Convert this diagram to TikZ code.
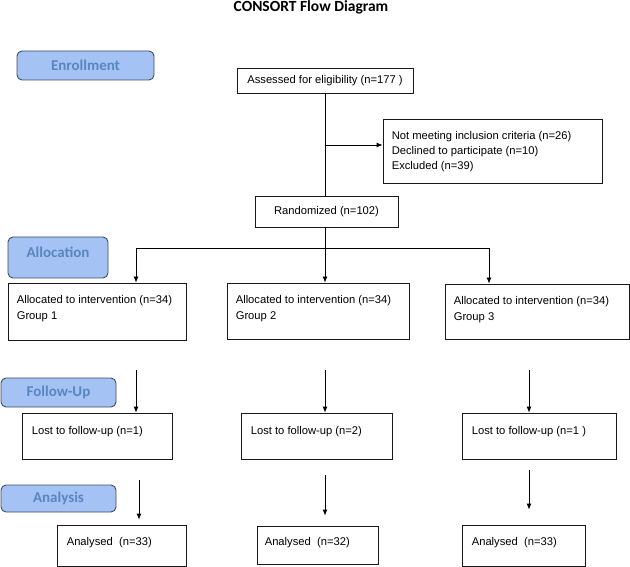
\documentclass[tikz,border=0pt]{standalone}
\usepackage{fontspec}
\setmainfont{Liberation Sans}
\newfontfamily\calib{Carlito}
\usetikzlibrary{arrows.meta,calc}
\definecolor{phasefill}{HTML}{A4C2F4}
\definecolor{phaseline}{HTML}{3D4D66}
\definecolor{phasetext}{HTML}{5A86C0}
\begin{document}
\begin{tikzpicture}[x=1pt,y=-1pt,
  box/.style={draw=black!90, line width=0.8pt, inner sep=0pt},
  boxfont/.style={font=\fontsize{11.2}{16}\selectfont},
  txt/.style={boxfont, inner sep=0pt, anchor=north west, align=left},
  phase/.style={draw=phaseline, line width=0.9pt, fill=phasefill, rounded corners=5pt, inner sep=0pt},
  phasetxt/.style={text=phasetext, font=\calib\bfseries\fontsize{15}{18}\selectfont, inner sep=0pt},
  arr/.style={line width=0.8pt, -{Latex[length=6pt,width=5pt]}},
  ln/.style={line width=0.8pt}]
\useasboundingbox (0,0) rectangle (630,567);

% title
\node[font=\calib\bfseries\fontsize{15.5}{18}\selectfont] (title) at (311,7.5) {CONSORT Flow Diagram};

% phase labels
\node[phase, minimum width=137, minimum height=29, phasetxt] (enr) at (85.5,65.5) {Enrollment};
\node[phase, minimum width=100, minimum height=41] (alloc) at (58,257.5) {};
\node[phasetxt] (alloct) at (58,252.5) {Allocation};
\node[phase, minimum width=115, minimum height=29, phasetxt] (fu) at (58.5,392.5) {Follow-Up};
\node[phase, minimum width=115, minimum height=27, phasetxt] (ana) at (58.5,498.5) {Analysis};

% enrollment
\node[box, boxfont, minimum width=176, minimum height=25] (assess) at (325,80.5) {Assessed for eligibility (n=177 )};
\node[box, minimum width=219, minimum height=64] (excl) at (492.5,151) {};
\node[txt, font=\fontsize{11.2}{15}\selectfont] (exclt) at ($(excl.north west)+(9,13)$) {Not meeting inclusion criteria (n=26)\\Declined to participate (n=10)\\Excluded (n=39)};
\node[box, boxfont, minimum width=143, minimum height=31] (rand) at (326.5,211.5) {Randomized (n=102)};

% allocation
\node[box, minimum width=178, minimum height=57] (g1) at (97,311.5) {};
\node[txt] (g1t) at ($(g1.north west)+(9,13)$) {Allocated to intervention (n=34)\\Group 1};
\node[box, minimum width=182, minimum height=56] (g2) at (318,311) {};
\node[txt] (g2t) at ($(g2.north west)+(9,13)$) {Allocated to intervention (n=34)\\Group 2};
\node[box, minimum width=184, minimum height=55] (g3) at (537,311.5) {};
\node[txt] (g3t) at ($(g3.north west)+(9,13)$) {Allocated to intervention (n=34)\\Group 3};

% follow-up
\node[box, minimum width=150, minimum height=46] (l1) at (97,436) {};
\node[txt] (l1t) at ($(l1.north west)+(10,14)$) {Lost to follow-up (n=1)};
\node[box, minimum width=151, minimum height=46] (l2) at (316.5,436) {};
\node[txt] (l2t) at ($(l2.north west)+(10,14)$) {Lost to follow-up (n=2)};
\node[box, minimum width=154, minimum height=46] (l3) at (539,436) {};
\node[txt] (l3t) at ($(l3.north west)+(10,14)$) {Lost to follow-up (n=1 )};

% analysis
\node[box, minimum width=129, minimum height=41] (a1) at (121.5,545.5) {};
\node[txt] (a1t) at ($(a1.north west)+(10,13)$) {Analysed\ \ (n=33)};
\node[box, minimum width=121, minimum height=38] (a2) at (317.5,545) {};
\node[txt] (a2t) at ($(a2.north west)+(8,12)$) {Analysed\ \ (n=32)};
\node[box, minimum width=123, minimum height=41] (a3) at (523.5,545.5) {};
\node[txt] (a3t) at ($(a3.north west)+(10,13)$) {Analysed\ \ (n=33)};

% connectors
\coordinate (br) at (325,145);
\coordinate (sp) at (325,248);
\coordinate (sp1) at (136,248);
\coordinate (sp3) at (489,248);
\draw[ln] (assess.south) -- (assess.south |- rand.north);
\draw[arr] (br) -- (br -| excl.west);
\draw[ln] (rand.south -| sp) -- (sp);
\draw[ln] (sp1) -- (sp3);
\draw[arr] (sp1) -- (sp1 |- g1.north);
\draw[arr] (sp) -- (sp |- g2.north);
\draw[arr] (sp3) -- (sp3 |- g3.north);

\coordinate (f1) at (136,370);
\coordinate (f2) at (325,370);
\coordinate (f3) at (529,370);
\draw[arr] (f1) -- (f1 |- l1.north);
\draw[arr] (f2) -- (f2 |- l2.north);
\draw[arr] (f3) -- (f3 |- l3.north);

\coordinate (e1) at (139,480);
\coordinate (e2) at (325,475);
\coordinate (e3) at (529,470);
\draw[arr, shorten >=5pt] (e1) -- (e1 |- a1.north);
\draw[arr, shorten >=10pt] (e2) -- (e2 |- a2.north);
\draw[arr, shorten >=15pt] (e3) -- (e3 |- a3.north);
\end{tikzpicture}
\end{document}
